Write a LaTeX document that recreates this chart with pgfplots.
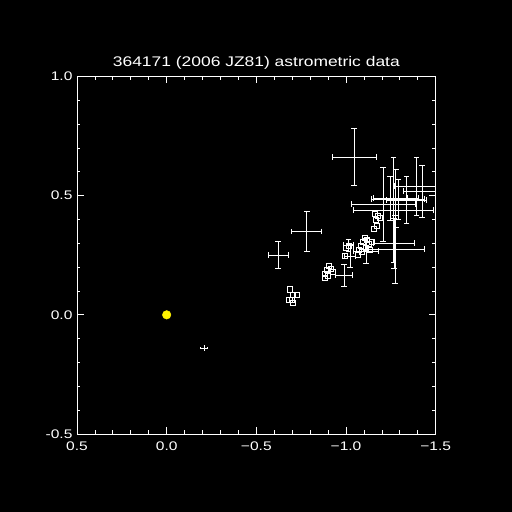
\documentclass[border=0pt]{standalone}
\usepackage{fontspec}
\setmainfont{Liberation Sans}
\newfontfamily\hfont{Liberation Sans}[FakeStretch=1.25]
\usepackage{pgfplots}
\pgfplotsset{compat=1.18}
\begin{document}
\begin{tikzpicture}[x=1bp,y=1bp]
\fill[black] (0,0) rectangle (512,512);
\begin{axis}[
  at={(77bp,78bp)}, anchor=south west,
  scale only axis, width=358.7bp, height=357.5bp,
  x dir=reverse,
  xmin=-1.5, xmax=0.5, ymin=-0.5, ymax=1.0,
  xtick={-1.5,-1,-0.5,0,0.5},
  xticklabels={−1.5,−1.0,−0.5,0.0,0.5},
  ytick={-0.5,0,0.5,1},
  yticklabels={-0.5,0.0,0.5,1.0},
  minor x tick num=4, minor y tick num=4,
  tick align=inside,
  major tick length=7bp, minor tick length=3.5bp,
  axis line style={white, line width=0.8bp},
  every tick/.style={white, line width=0.8bp},
  tick label style={white, font=\hfont\fontsize{12.5}{14}\selectfont},
  xticklabel style={yshift=-4bp},
  yticklabel style={xshift=-1bp},
  title={364171 (2006 JZ81) astrometric data},
  title style={white, font=\hfont\fontsize{14}{16}\selectfont, yshift=-2bp},
  clip=true,
]
% yellow dot at origin
\addplot[only marks, mark=*, mark size=4.3bp, yellow, mark options={fill=yellow, draw=yellow}] coordinates {(0,0)};
% small error-bar cross
\addplot[draw=none, mark=none,
  error bars/.cd, x dir=both, x explicit, y dir=both, y explicit,
  error bar style={draw=white, line width=0.8bp},
  error mark options={draw=white, line width=0.8bp, mark size=0.8bp, rotate=90}]
  coordinates {
  (-0.210,-0.139) +- (0.0195,0.0097)
  };
% error-bar crosses
\addplot[draw=none, mark=none,
  error bars/.cd, x dir=both, x explicit, y dir=both, y explicit,
  error bar style={draw=white, line width=0.8bp},
  error mark options={draw=white, line width=0.8bp, mark size=2.8bp, rotate=90}]
  coordinates {
  (-0.622,0.250) +- (0.056,0.057)
  (-0.781,0.350) +- (0.084,0.084)
  (-1.046,0.662) +- (0.121,0.119)
  (-1.264,0.440) +- (0.223,0.222)
  (-1.206,0.465) +- (0.178,0.155)
  (-1.394,0.540) +- (0.123,0.122)
  (-1.424,0.519) +- (0.106,0.109)
  (-1.267,0.301) +- (0.114,0.105)
  (-1.273,0.276) +- (0.164,0.143)
  (-1.290,0.486) +- (0.149,0.084)
  (-1.278,0.489) +- (0.125,0.122)
  (-1.245,0.490) +- (0.095,0.092)
  (-1.338,0.482) +- (0.112,0.097)
  (-1.111,0.268) +- (0.072,0.052)
  (-0.989,0.167) +- (0.047,0.046)
  (-1.022,0.247) +- (0.033,0.050)
  (-1.013,0.293) +- (0.028,0.025)
  };
% squares
\addplot[only marks, mark=square, mark size=2.6bp, white, line width=0.8bp] coordinates {
  (-0.688,0.107) (-0.706,0.083) (-0.725,0.083) (-0.697,0.062) (-0.684,0.062) (-0.703,0.051)
  (-0.880,0.171) (-0.894,0.188) (-0.905,0.205) (-0.916,0.192) (-0.900,0.163) (-0.883,0.154) (-0.927,0.180)
  (-1.000,0.280) (-1.017,0.289) (-0.994,0.247)
  (-1.072,0.272) (-1.084,0.289) (-1.095,0.305) (-1.106,0.322) (-1.117,0.314) (-1.089,0.264)
  (-1.128,0.297) (-1.145,0.305) (-1.067,0.251) (-1.111,0.280) (-1.134,0.272)
  (-1.162,0.423) (-1.178,0.415) (-1.167,0.398) (-1.189,0.406) (-1.173,0.373) (-1.156,0.360)
  };
\end{axis}
\end{tikzpicture}
\end{document}
